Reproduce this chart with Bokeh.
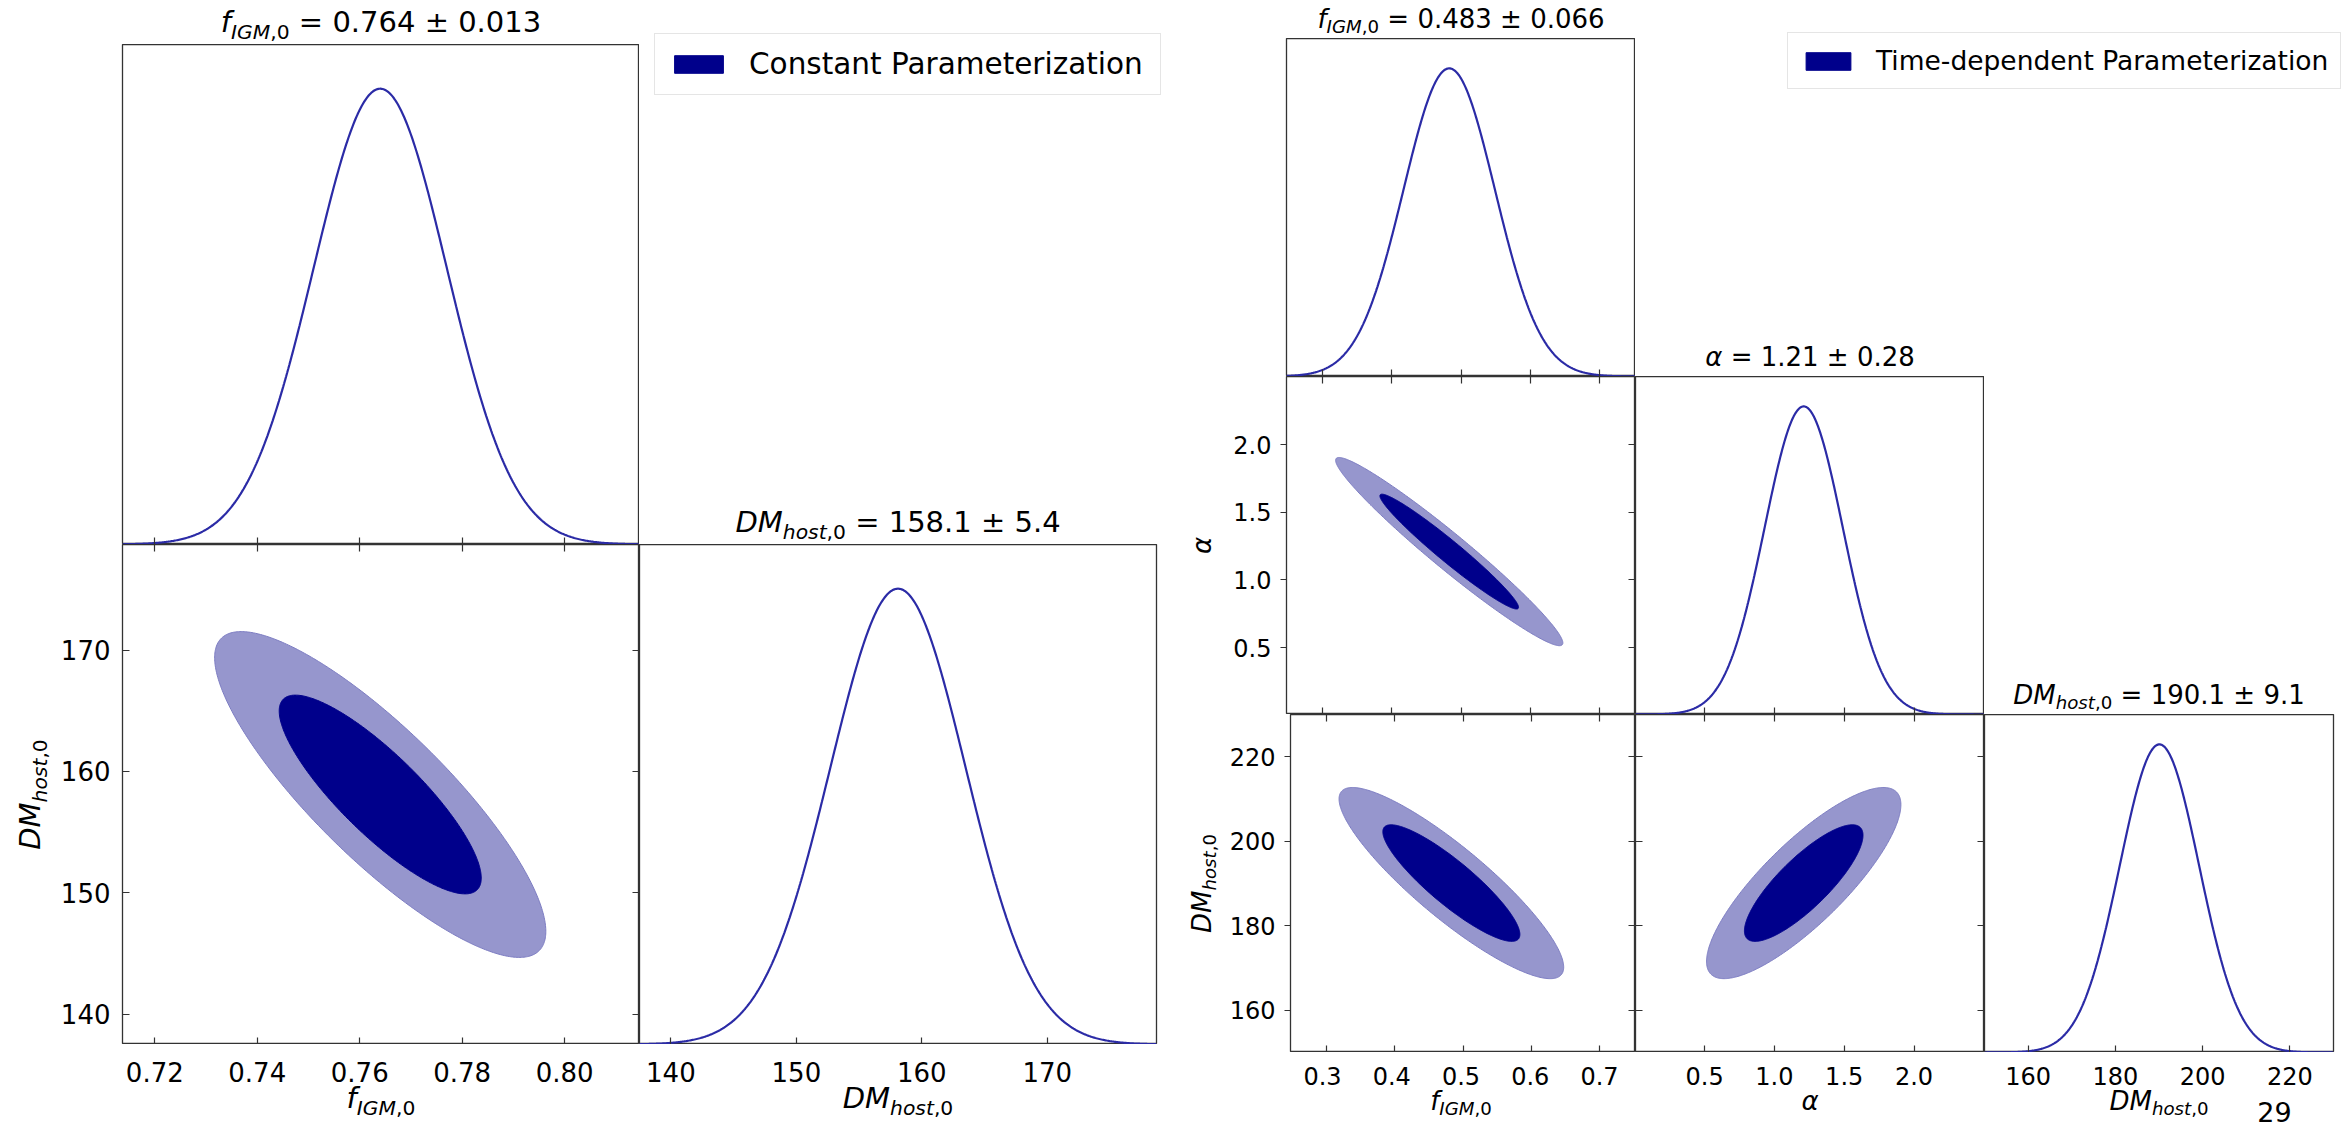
import numpy as np
from bokeh.plotting import figure
from bokeh.layouts import row, column
from bokeh.models import Range1d, FixedTicker, LinearAxis, Label, Legend, LegendItem
from bokeh.core.properties import value
from bokeh.embed import file_html
from bokeh.resources import INLINE

FONT = "DejaVu Sans"
DARK = "#00008B"
LIGHT = "#9696CD"
LIGHT_EDGE = "#7D7DC2"
CURVE = "#2B2BA6"
FRAME = "#333333"

# ---------------- Constant parameterization (left corner plot) ----------------
const_legend = "Constant Parameterization"
const_symbols = [[("f", 1, 0), ("IGM", 1, 1), (",0", 0, 1)],
                 [("DM", 1, 0), ("host", 1, 1), (",0", 0, 1)]]
const_title_values = ["0.764 ± 0.013", "158.1 ± 5.4"]
const_mean = [0.764, 158.1]
const_sigma = [0.013, 5.4]
const_corr = [[1.0, -0.84],
              [-0.84, 1.0]]
const_lo = [0.7137, 137.5]
const_hi = [0.8146, 178.7]
const_ticks = [[0.72, 0.74, 0.76, 0.78, 0.80], [140, 150, 160, 170]]
const_tick_labels = [["0.72", "0.74", "0.76", "0.78", "0.80"], ["140", "150", "160", "170"]]

# ---------------- Time-dependent parameterization (right corner plot) ----------------
td_legend = "Time-dependent Parameterization"
td_symbols = [[("f", 1, 0), ("IGM", 1, 1), (",0", 0, 1)],
              [("α", 1, 0)],
              [("DM", 1, 0), ("host", 1, 1), (",0", 0, 1)]]
td_title_values = ["0.483 ± 0.066", "1.21 ± 0.28", "190.1 ± 9.1"]
td_mean = [0.483, 1.21, 190.1]
td_sigma = [0.066, 0.28, 9.1]
td_corr = [[1.0, -0.97, -0.88],
           [-0.97, 1.0, 0.82],
           [-0.88, 0.82, 1.0]]
td_lo = [0.248, 0.005, 150.0]
td_hi = [0.752, 2.505, 230.0]
td_ticks = [[0.3, 0.4, 0.5, 0.6, 0.7], [0.5, 1.0, 1.5, 2.0], [160, 180, 200, 220]]
td_tick_labels = [["0.3", "0.4", "0.5", "0.6", "0.7"], ["0.5", "1.0", "1.5", "2.0"],
                  ["160", "180", "200", "220"]]

page_number = "29"

# 2D contour levels (delta chi^2 for 68% and 95% in two dimensions)
contour_levels = [2.30, 6.18]

# ---------------- helpers ----------------
WIDTH = {'D': 0.770, 'M': 0.863, 'h': 0.634, 'o': 0.612, 's': 0.521, 't': 0.392,
         ',': 0.318, '.': 0.318, 'f': 0.352, 'I': 0.295, 'G': 0.775, ' ': 0.318,
         '=': 0.838, '±': 0.838, 'α': 0.659}
for d in "0123456789":
    WIDTH[d] = 0.636
MID = 0.346   # middle of the em box above the alphabetic baseline (DejaVu Sans)


def text_w(s, size):
    return size * sum(WIDTH.get(ch, 0.62) for ch in s)


def math_text(p, x, y, pieces, size, vertical=False, xs=1.0):
    """Composite text (italic symbol, subscript, plain value), centred on the anchor.
    Horizontal: x = centre (data), y = baseline (px).  Vertical: x = baseline, y = centre (px).
    xs = data units per pixel along x for horizontal text."""
    segs = []
    for txt, ital, sub in pieces:
        fs = size * 0.7 if sub else size
        core = txt.lstrip(" ")
        lead = (len(txt) - len(core)) * WIDTH[' '] * fs
        segs.append((core, ital, sub, fs, lead, text_w(core, fs)))
    total = sum(s[4] + s[5] for s in segs)
    pos = -total / 2
    for txt, ital, sub, fs, lead, w in segs:
        pos += lead
        drop = 0.22 * size if sub else 0.0
        c = pos + w / 2
        if vertical:
            lx, ly, ang = x - MID * fs + drop, y + c, np.pi / 2
        else:
            lx, ly, ang = x + c * xs, y + MID * fs - drop, 0.0
        p.add_layout(Label(x=lx, y=ly, text=txt, angle=ang,
                           text_font=FONT, text_font_size=f"{fs:.1f}px",
                           text_font_style="italic" if ital else "normal",
                           text_align="center", text_baseline="middle",
                           text_color="black"))
        pos += w


def add_axis(p, place, ticks, labels, show, fs, standoff, tin=7, tout=0):
    ax = LinearAxis(ticker=FixedTicker(ticks=ticks),
                    major_label_overrides={t: l for t, l in zip(ticks, labels)})
    ax.axis_line_color = None
    ax.major_tick_in = tin
    ax.major_tick_out = tout
    ax.major_tick_line_color = FRAME
    ax.major_tick_line_width = 1.2
    ax.minor_tick_line_color = None
    ax.major_label_text_font = FONT
    if show:
        ax.major_label_text_color = "black"
        ax.major_label_text_font_size = f"{fs}px"
        ax.major_label_standoff = standoff
    else:
        ax.major_label_text_color = None
        ax.major_label_text_font_size = "0px"
        ax.major_label_standoff = 0
    p.add_layout(ax, place)


def base_fig(w, h, xr, yr, mb, outline):
    p = figure(width=w, height=h, x_range=Range1d(*xr), y_range=Range1d(*yr),
               output_backend="svg", toolbar_location=None,
               x_axis_type=None, y_axis_type=None,
               min_border_left=mb[0], min_border_right=mb[1],
               min_border_top=mb[2], min_border_bottom=mb[3])
    p.outline_line_color = FRAME if outline else None
    p.outline_line_width = 1.3
    p.background_fill_color = "white"
    p.border_fill_color = "white"
    return p


def make_blank(w, h, left=0, right=0):
    return base_fig(w, h, (0, w - left - right), (0, h), (left, right, 0, 0), False)


def build_panel(mean, sigma, corr, lo, hi, ticks, tlabels, symbols, tvals, legend_text, L):
    n = len(mean)
    cw, rh, bb = L["cw"], L["rh"], L["bb"]
    lb_in = L["lb"] - L["ysw"]          # tick-label border inside the figures
    colw = [lb_in + cw] + [cw] * (n - 2) + [cw + L["rb"]]
    ytop = 1.097
    rows = []
    for i in range(n):
        figs = []
        for j in range(i + 1):
            mb = (lb_in if j == 0 else 0, L["rb"] if j == n - 1 else 0, 0, 0)
            if j == i:
                p = base_fig(colw[j], rh, (lo[j], hi[j]), (0, ytop), mb, True)
                xs = np.linspace(lo[j], hi[j], 500)
                ys = np.exp(-0.5 * ((xs - mean[j]) / sigma[j]) ** 2)
                p.line(xs, ys, line_color=CURVE, line_width=2.2)
                add_axis(p, "below", ticks[j], tlabels[j], False, L["tfs"], 0)
            else:
                p = base_fig(colw[j], rh, (lo[j], hi[j]), (lo[i], hi[i]), mb, True)
                sx, sy, r = sigma[j], sigma[i], corr[i][j]
                t = np.linspace(0, 2 * np.pi, 400)
                for lev, fc, lc in [(contour_levels[1], LIGHT, LIGHT_EDGE),
                                    (contour_levels[0], DARK, DARK)]:
                    k = np.sqrt(lev)
                    ex = mean[j] + k * sx * np.cos(t)
                    ey = mean[i] + k * sy * (r * np.cos(t) + np.sqrt(1 - r * r) * np.sin(t))
                    p.patch(ex, ey, fill_color=fc, line_color=lc, line_width=1)
                add_axis(p, "below", ticks[j], tlabels[j], False, L["tfs"], 0)
                if j == 0:
                    add_axis(p, "left", ticks[i], tlabels[i], True, L["tfs"], L["yso"],
                             tin=L["ytin"], tout=L["ytout"])
                else:
                    add_axis(p, "left", ticks[i], tlabels[i], False, L["tfs"], 0)
                add_axis(p, "above", ticks[j], tlabels[j], False, L["tfs"], 0)
                add_axis(p, "right", ticks[i], tlabels[i], False, L["tfs"], 0)
            figs.append(p)
        if i == 0:
            # strip above the first diagonal panel carries its title (same side borders)
            ts = make_blank(colw[0], L["tb"], left=lb_in, right=0)
            math_text(ts, cw / 2, L["tgap"],
                      symbols[0] + [(" = " + tvals[0], 0, 0)], L["hfs"])
            figs[0] = column(ts, figs[0])
        if i < n - 1:
            bh = rh + (L["tb"] if i == 0 else 0)
            b = make_blank(sum(colw[i + 1:]), bh)
            # title of the diagonal panel directly below
            math_text(b, cw / 2, L["tgap"], symbols[i + 1] + [(" = " + tvals[i + 1], 0, 0)],
                      L["hfs"])
            if i == 0:
                r0 = b.quad(left=[-40], right=[-30], top=[-30], bottom=[-40],
                            fill_color=DARK, line_color=DARK)
                leg = Legend(items=[LegendItem(label=legend_text, renderers=[r0])],
                             location=L["legloc"], margin=0, padding=L["legpad"],
                             glyph_width=L["gw"], glyph_height=L["gh"], label_standoff=20,
                             label_width=L["lw"], label_text_font=FONT,
                             label_text_font_size=f"{L['legfs']}px",
                             label_text_color="black",
                             border_line_color="#CCCCCC", border_line_width=1.5,
                             background_fill_color="white", background_fill_alpha=1.0)
                b.add_layout(leg)
            figs.append(b)
        rows.append(row(*figs))

    # strips below the grid: x tick labels (through each column's own x scale) and x labels
    strips = []
    for j in range(n):
        s = base_fig(colw[j], bb, (lo[j], hi[j]), (0, bb),
                     (lb_in if j == 0 else 0, L["rb"] if j == n - 1 else 0, 0, 0), False)
        s.text(x=ticks[j], y=[bb - L["tick_c"]] * len(ticks[j]), text=tlabels[j],
               text_font=value(FONT), text_font_size=value(f"{L['tfs']}px"),
               text_align="center", text_baseline="middle", text_color="black")
        math_text(s, (lo[j] + hi[j]) / 2, L["xbase"], symbols[j], L["lfs"],
                  xs=(hi[j] - lo[j]) / cw)
        strips.append(s)
    # strip left of the grid with the y-axis labels
    total_h = L["tb"] + n * rh + bb
    ys_strip = make_blank(L["ysw"], total_h)
    for i in range(1, n):
        top_of_frame = L["tb"] + i * rh
        yc = total_h - (top_of_frame + rh / 2)
        math_text(ys_strip, L["ybase"], yc, symbols[i], L["lfs"], vertical=True)
    panel = row(ys_strip, column(*rows, row(*strips)))
    return panel, strips


left_layout = dict(cw=517, rh=500, lb=122, rb=14, tb=44, bb=88, ysw=55,
                   tfs=26, hfs=29, lfs=29, legfs=29.5, yso=12, ytin=7, ytout=0,
                   ybase=40, xbase=24, tick_c=27, tgap=12,
                   legloc=(15, 449), legpad=13, gw=61, gh=22, lw=398)
right_layout = dict(cw=349, rh=338, lb=116, rb=11, tb=38, bb=80, ysw=56,
                    tfs=24, hfs=26, lfs=26, legfs=26.5, yso=9, ytin=0, ytout=6,
                    ybase=40, xbase=23, tick_c=23, tgap=11,
                    legloc=(152, 287), legpad=12, gw=56, gh=22, lw=446)

left_panel, _ = build_panel(const_mean, const_sigma, const_corr, const_lo, const_hi,
                            const_ticks, const_tick_labels, const_symbols,
                            const_title_values, const_legend, left_layout)
right_panel, right_strips = build_panel(td_mean, td_sigma, td_corr, td_lo, td_hi,
                                        td_ticks, td_tick_labels, td_symbols,
                                        td_title_values, td_legend, right_layout)

# page number of the source document (bottom right corner)
_px = (td_hi[2] - td_lo[2]) / right_layout["cw"]
right_strips[-1].add_layout(Label(x=td_hi[2] - 59 * _px, y=21, text=page_number,
                                  text_font=FONT, text_font_size="27px", text_align="center",
                                  text_baseline="middle", text_color="black"))

layout = row(left_panel, right_panel)
open("out.html", "w").write(file_html(layout, INLINE))
